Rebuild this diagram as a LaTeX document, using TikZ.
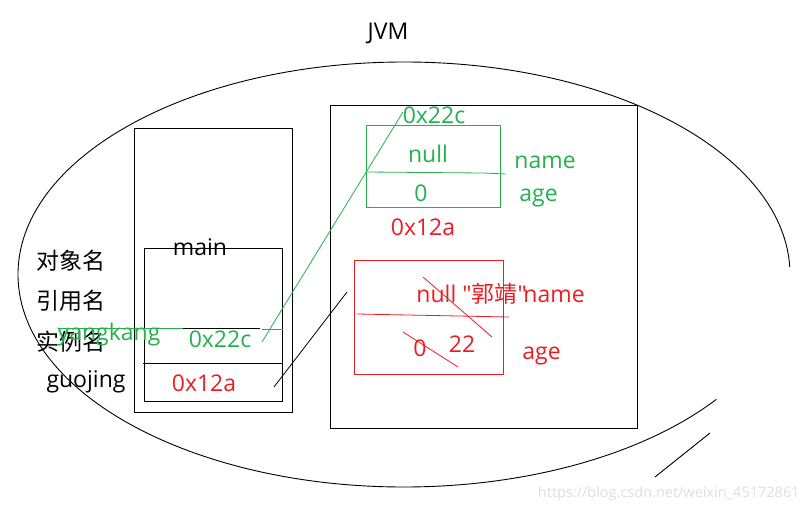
\documentclass[tikz,border=0pt]{standalone}
\usepackage{fontspec}
\setmainfont{Open Sans}
\newfontfamily\osplain{Open Sans}
\newfontfamily\cjk{Noto Sans CJK SC}
\definecolor{pgreen}{RGB}{34,177,76}
\definecolor{pred}{RGB}{237,28,36}
\definecolor{wmark}{RGB}{222,222,222}
\begin{document}
\begin{tikzpicture}[x=1pt,y=-1pt,line width=0.9pt,
  txt/.style={inner sep=0pt,anchor=base,font=\fontsize{23}{26}\selectfont},
  gtxt/.style={txt,text=pgreen},
  rtxt/.style={txt,text=pred},
  box/.style={draw,inner sep=0pt,minimum width=#1},
  gline/.style={draw=pgreen,line width=0.8pt},
  rline/.style={draw=pred,line width=0.8pt},
  kline/.style={draw=black,line width=0.8pt}]
\useasboundingbox (0,0) rectangle (806,508);
% JVM ellipse (open arc) and extra strokes
\coordinate (E) at (404,274.5);
\draw (E) ++(-2:386 and 212.5) arc[start angle=-2,end angle=-324,x radius=386,y radius=212.5];
\coordinate (s1) at (655,477);
\coordinate (s2) at (710,433);
\draw (s1) -- (s2);
\node[txt] (jvm) at (388,40) {JVM};
% stack
\node[box=158,minimum height=284] (stack) at (213,270) {};
\node[box=138,minimum height=153] (mainbox) at (213,324.5) {};
\coordinate (md1) at (143,363);
\coordinate (md2) at (283,363);
\draw (md1) -- (md2);
\node[txt] (main) at (200,255) {main};
\node[txt,font=\fontsize{23}{26}\cjk] (l1) at (71,269) {对象名};
\node[txt,font=\fontsize{23}{26}\cjk] (l2) at (71,309) {引用名};
\node[txt,font=\fontsize{23}{26}\cjk] (l3) at (71,350) {实例名};
\node[gtxt] (yk) at (109,340) {yangkang};
\node[gtxt] (p1) at (220,347) {0x22c};
\node[txt] (gj) at (86,387) {guojing};
\node[rtxt] (p2) at (204,391) {0x12a};
\coordinate (y1) at (58,328);
\coordinate (y2) at (183,328);
\coordinate (y3) at (260,328);
\coordinate (y4) at (262,329);
\coordinate (y5) at (283,329);
\draw[gline] (y1) -- (y2);
\draw[kline] (y2) -- (y3);
\draw[gline] (y4) -- (y5);
% heap
\node[box=307,minimum height=323] (heap) at (483.5,266.5) {};
% green object
\node[box=134,minimum height=82,draw=pgreen] (gobj) at (433,166) {};
\coordinate (g1) at (366,172);
\coordinate (g2) at (483,173);
\coordinate (g3) at (506,174);
\draw[gline] (g1) -- (g2) -- (g3);
\node[gtxt] (ga) at (434,124) {0x22c};
\node[gtxt] (gn) at (428,163) {null};
\node[gtxt] (g0) at (421,201) {0};
\node[gtxt,anchor=base west] (gname) at (514,168) {name};
\node[gtxt,anchor=base west] (gage) at (519,201) {age};
\node[rtxt] (ra) at (423,235) {0x12a};
% red object
\node[box=149,minimum height=114,draw=pred] (robj) at (428.5,317) {};
\coordinate (r1) at (357,314);
\coordinate (r2) at (509,317);
\draw[rline] (r1) -- (r2);
\node[rtxt,anchor=base west,font=\fontsize{23}{26}\osplain] (rn) at (416,302) {null "{\cjk 郭靖}"};
\node[rtxt,anchor=base west] (rname) at (523,302) {name};
\node[rtxt] (r0) at (420,356) {0};
\node[rtxt] (r22) at (462,352) {22};
\node[rtxt,anchor=base west] (rage) at (522,359) {age};
\coordinate (x1) at (423,277);
\coordinate (x2) at (492,337);
\coordinate (x3) at (403,332);
\coordinate (x4) at (458,367);
\draw[rline] (x1) -- (x2);
\draw[rline] (x3) -- (x4);
% pointers
\coordinate (pa) at (262,342);
\coordinate (pb) at (403,112);
\draw[gline] (pa) -- (pb);
\coordinate (qa) at (274,387);
\coordinate (qb) at (347,292);
\draw[kline] (qa) -- (qb);
% watermark
\node[anchor=base east,inner sep=0pt,text=wmark,font=\fontsize{14.5}{16}\selectfont] (wm) at (800,497) {https://blog.csdn.net/weixin\_45172861};
\end{tikzpicture}
\end{document}
